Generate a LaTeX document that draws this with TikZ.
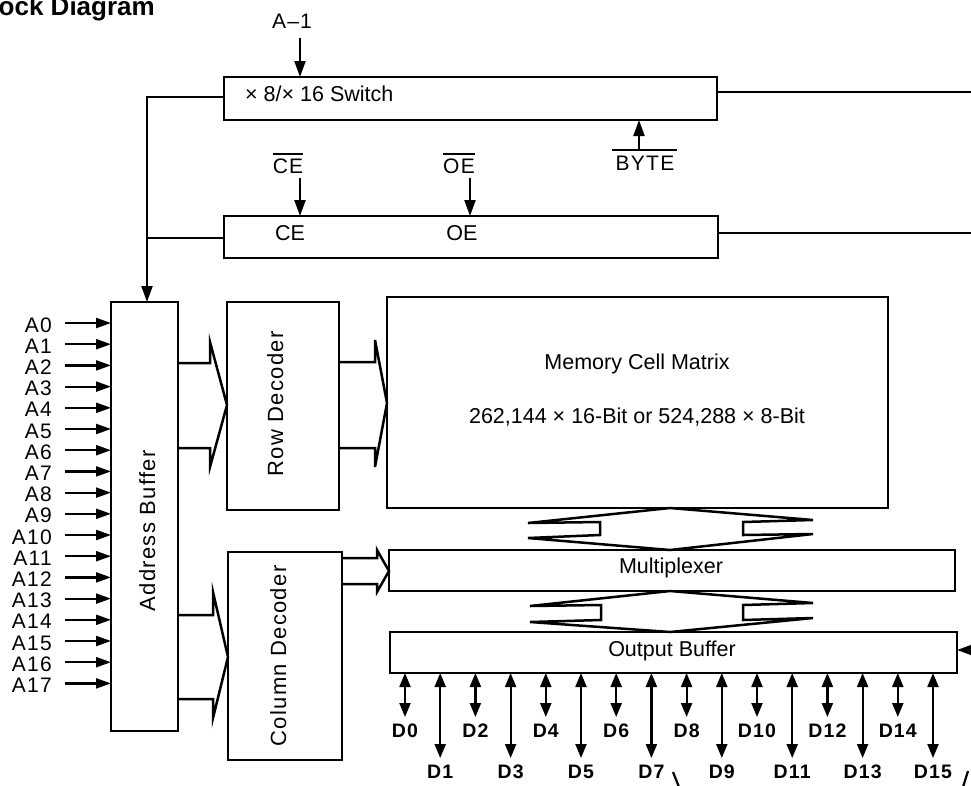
\documentclass[tikz,border=0pt]{standalone}
\usepackage{fontspec}
\setmainfont{Liberation Sans}
\newfontfamily\spc[LetterSpace=6]{Liberation Sans}
\usetikzlibrary{arrows.meta,calc}
\begin{document}
\begin{tikzpicture}[x=1pt,y=-1pt,
  box/.style={draw, line width=2.6pt, inner sep=0pt, outer sep=0pt},
  ln/.style={line width=2.2pt},
  tri/.style={ln, -{Triangle[length=16pt,width=11pt]}},
  atri/.style={ln, -{Triangle[length=15pt,width=10pt]}},
  dbl/.style={ln, {Triangle[length=14pt,width=11pt]}-{Triangle[length=14pt,width=11pt]}},
  bus/.style={line width=2.5pt, line join=miter},
  txt/.style={font=\fontsize{21.5}{24}\selectfont, inner sep=0pt, anchor=base},
  rot/.style={font=\spc\fontsize{22}{24}\selectfont, inner sep=0pt, rotate=90, anchor=base},
  alab/.style={font=\spc\fontsize{21}{22}\selectfont, inner sep=0pt, anchor=base east},
  dlab/.style={font=\spc\bfseries\fontsize{19.5}{22}\selectfont, inner sep=0pt, anchor=base}]
\useasboundingbox (0,0) rectangle (971,785);
\clip (0,0) rectangle (971,785);

% title (cut by the frame)
\node[font=\bfseries\fontsize{26}{30}\selectfont, inner sep=0pt, anchor=base east] (title) at (155,15) {Block Diagram};

% boxes
\node[box, minimum width=493pt, minimum height=43pt] (sw) at (470.5,98.5) {};
\node[box, minimum width=494pt, minimum height=42pt] (ce) at (471,237) {};
\node[box, minimum width=67pt, minimum height=429pt] (ab) at (144.5,516.5) {};
\node[box, minimum width=112pt, minimum height=208pt] (rd) at (283,406) {};
\node[box, minimum width=114pt, minimum height=208pt] (cd) at (285,656) {};
\node[box, minimum width=501pt, minimum height=211pt] (mem) at (637.5,402.5) {};
\node[box, minimum width=566pt, minimum height=41pt] (mux) at (672,570.5) {};
\node[box, minimum width=567pt, minimum height=41pt] (ob) at (673.5,652.5) {};

% texts in boxes
\node[txt, anchor=base west] (swt) at (245,101) {× 8/× 16 Switch};
\node[txt] (cet) at (290,240) {CE};
\node[txt] (oet) at (462,240) {OE};
\node[txt] (memt1) at (637,369) {Memory Cell Matrix};
\node[txt] (memt2) at (637,423) {262,144 × 16-Bit or 524,288 × 8-Bit};
\node[txt] (muxt) at (671,573) {Multiplexer};
\node[txt] (obt) at (672,656) {Output Buffer};
\node[rot] (abt) at (155,531) {Address Buffer};
\node[rot] (rdt) at (283,404) {Row Decoder};
\node[rot] (cdt) at (286,656) {Column Decoder};

% A-1 input
\node[txt, font=\spc\fontsize{21}{22}\selectfont] (a1) at (292,28) {A–1};
\coordinate (a1s) at (300,38);
\draw[tri] (a1s) -- (a1s |- sw.north);

% CE / OE inputs
\node[txt, font=\spc\fontsize{21}{22}\selectfont] (cebar) at (288,173) {CE};
\node[txt, font=\spc\fontsize{21}{22}\selectfont] (oebar) at (459,173) {OE};
\draw[line width=1.8pt] ($(cebar.north west)+(0,-4)$) -- ($(cebar.north east)+(0,-4)$);
\draw[line width=1.8pt] ($(oebar.north west)+(0,-4)$) -- ($(oebar.north east)+(0,-4)$);
\coordinate (ces) at (300,178);
\coordinate (oes) at (470,178);
\draw[tri] (ces) -- (ces |- ce.north);
\draw[tri] (oes) -- (oes |- ce.north);

% BYTE input
\node[txt, font=\spc\fontsize{21}{22}\selectfont] (byte) at (645,170) {BYTE};
\coordinate (byl) at (612,150);
\coordinate (byr) at (677,150);
\coordinate (bys) at (639,150);
\draw[ln] (byl) -- (byr);
\draw[tri] (bys) -- (bys |- sw.south);

% lines to the right edge
\coordinate (swr) at (975,92);
\coordinate (cer) at (975,233);
\draw[ln] (swr -| sw.east) -- (swr);
\draw[ln] (cer -| ce.east) -- (cer);

% left feed into address buffer
\coordinate (bk) at (147,97);
\coordinate (cel) at (147,238);
\draw[tri] (sw.west |- bk) -- (bk) -- (bk |- ab.north);
\draw[ln] (ce.west |- cel) -- (cel);

% address inputs
\foreach \i in {0,...,17}{
  \pgfmathsetmacro\yy{323+21.2*\i}
  \coordinate (as\i) at (65,\yy);
  \node[alab] (al\i) at (52,\yy+9) {A\i};
  \draw[atri] (as\i) -- (as\i -| ab.west);
}

% bus arrows
\draw[bus] (ab.east |- 0,363) -- (210,363) -- (210,342) -- (rd.west |- 0,405) -- (210,467) -- (210,448) -- (ab.east |- 0,448);
\draw[bus] (rd.east |- 0,362) -- (375,362) -- (375,340) -- (mem.west |- 0,403) -- (375,467) -- (375,448) -- (rd.east |- 0,448);
\draw[bus] (ab.east |- 0,615) -- (213,615) -- (213,592) -- (cd.west |- 0,657) -- (213,718) -- (213,699) -- (ab.east |- 0,699);
\draw[bus] (cd.east |- 0,558) -- (377,558) -- (377,550) -- (mux.west |- 0,571) -- (377,592) -- (377,584) -- (cd.east |- 0,584);

% double block arrows
\draw[bus] (670,508) -- (528,523) -- (600,522) -- (600,535) -- (528,538) -- (670,550)
  -- (813,534) -- (743,535) -- (743,522) -- (813,520) -- cycle;
\draw[bus] (670,591) -- (530,606) -- (601,605) -- (601,620) -- (530,622) -- (670,632)
  -- (813,618) -- (743,620) -- (743,605) -- (813,603) -- cycle;

% output buffer right input
\coordinate (obr) at (975,650);
\draw[tri] (obr) -- (obr -| ob.east);

% data lines
\foreach \i in {0,...,15}{
  \pgfmathsetmacro\xx{405+35.2*\i}
  \ifodd\i\relax
    \coordinate (de\i) at (\xx,758);
    \node[dlab] (d\i) at (\xx,778) {D\i};
  \else
    \coordinate (de\i) at (\xx,717);
    \node[dlab] (d\i) at (\xx,737) {D\i};
  \fi
  \draw[dbl] (ob.south -| de\i) -- (de\i);
}

% fragments cut by the bottom edge
\draw[ln] (673,772) -- (679,787);
\draw[ln] (968,771) -- (963,787);
\end{tikzpicture}
\end{document}
